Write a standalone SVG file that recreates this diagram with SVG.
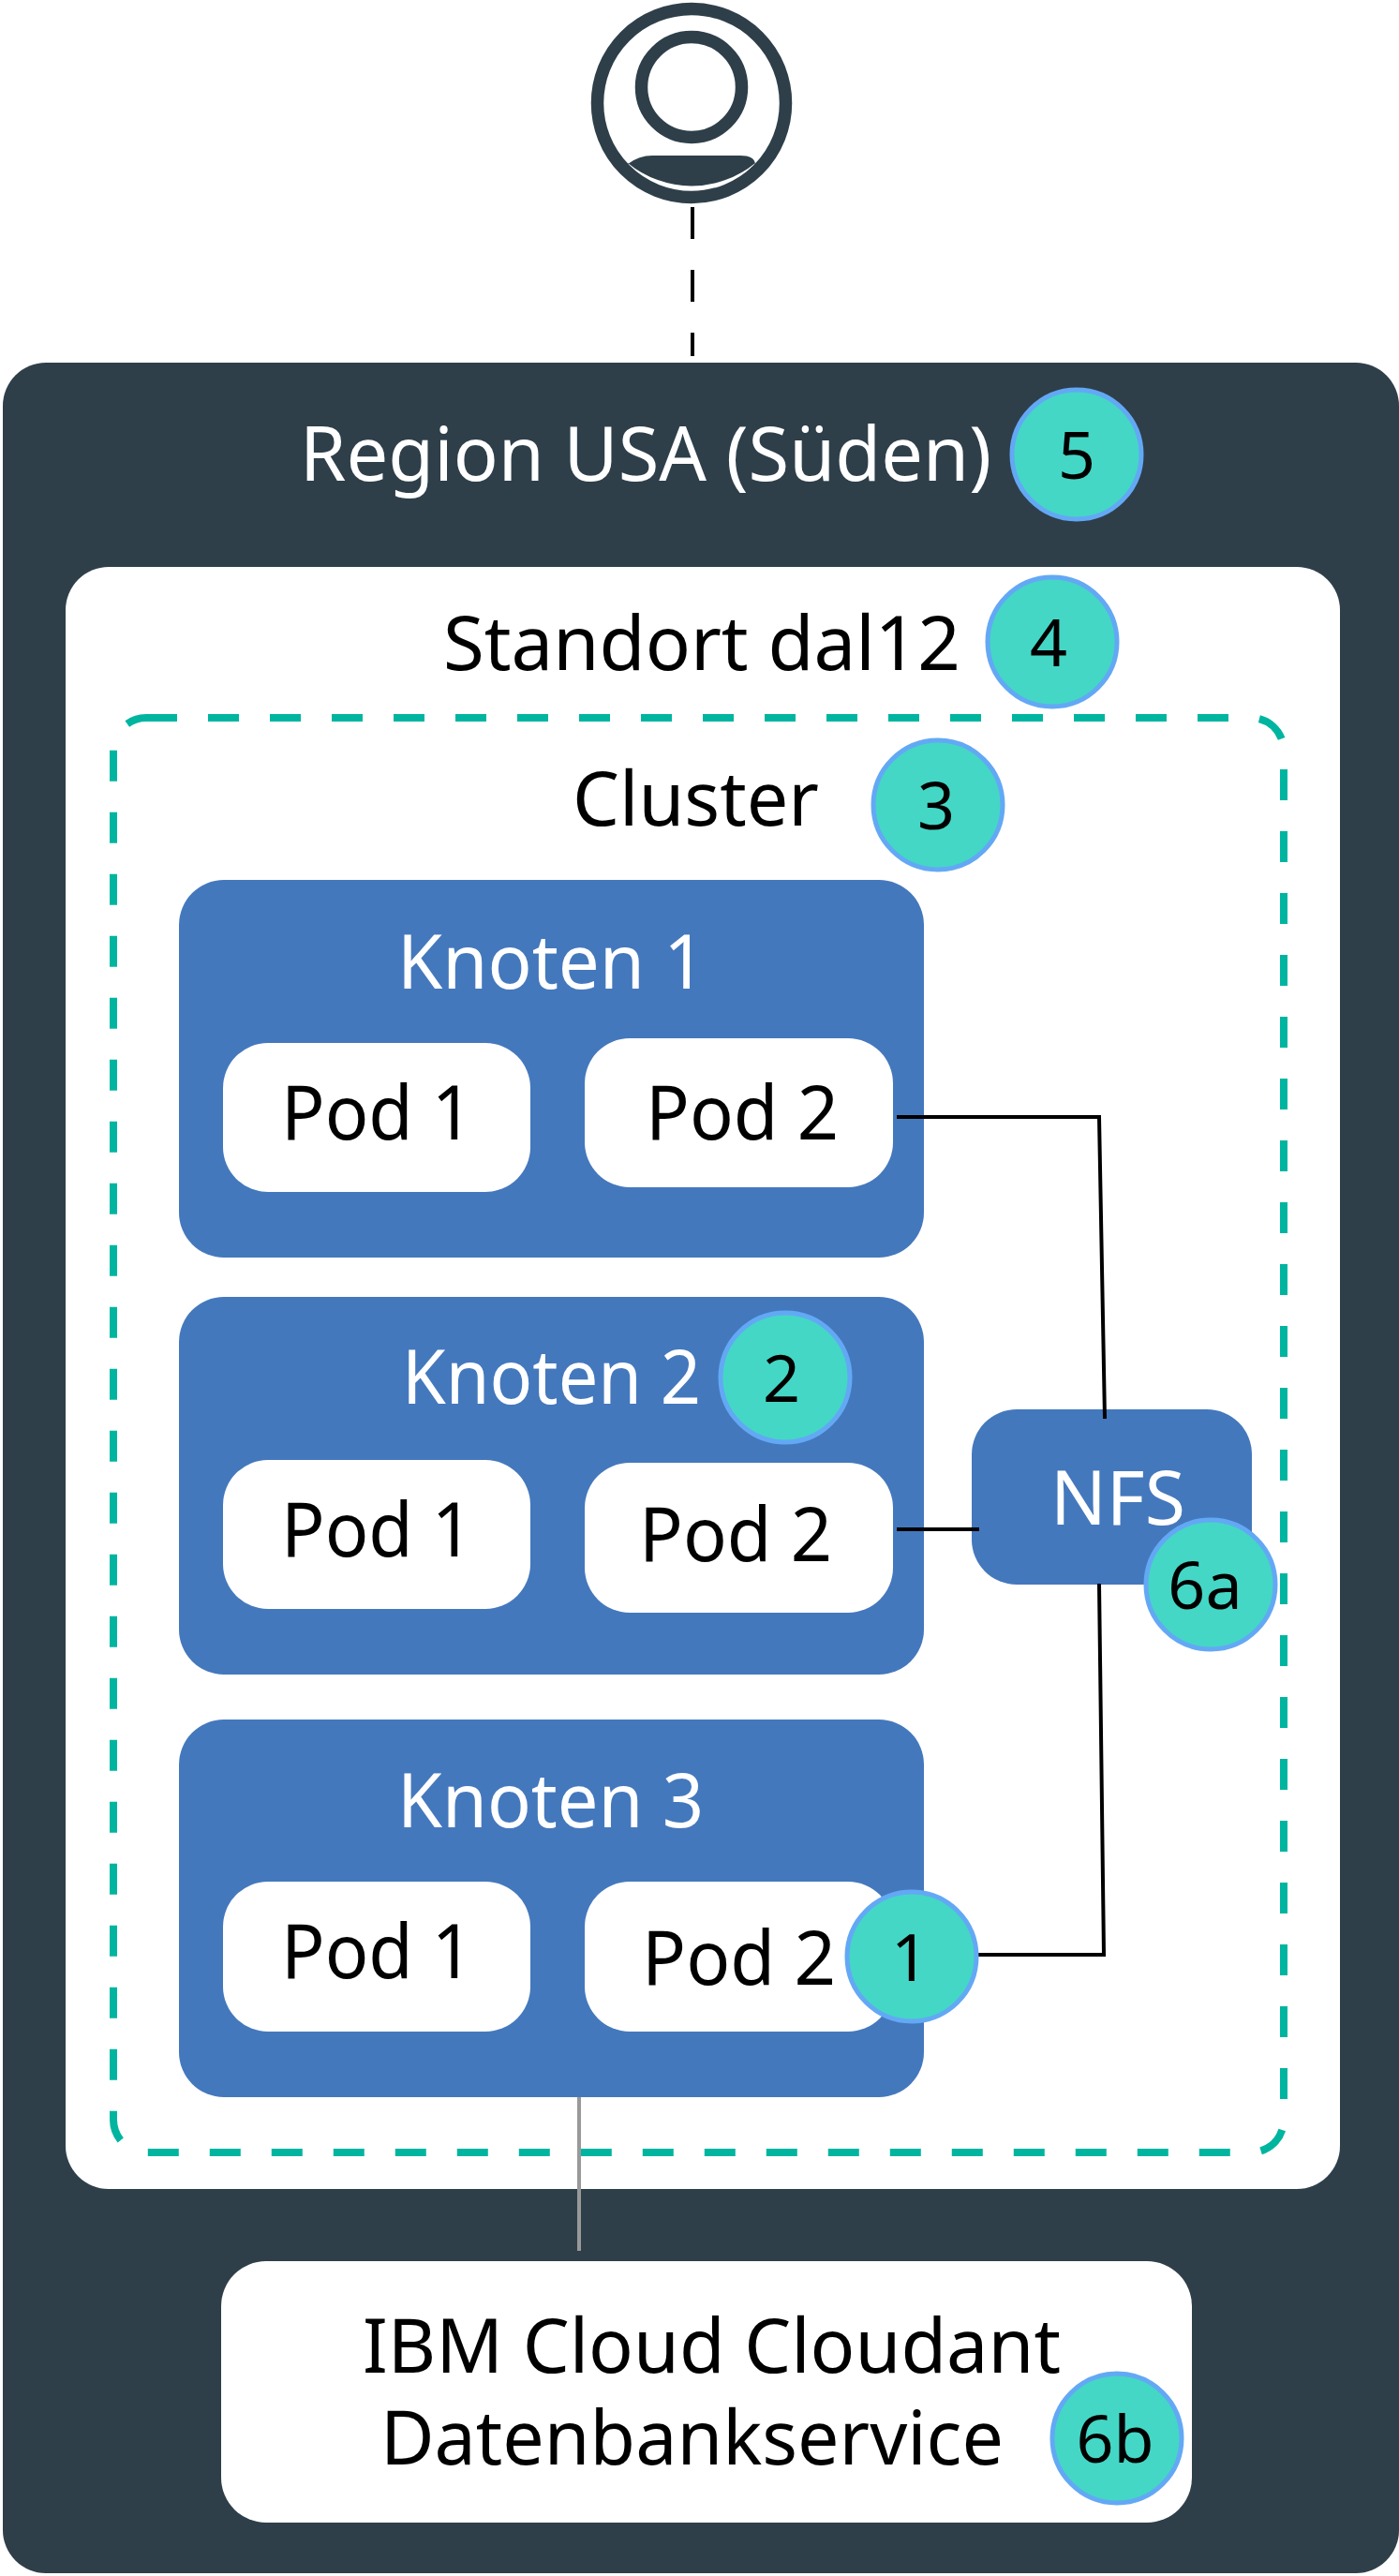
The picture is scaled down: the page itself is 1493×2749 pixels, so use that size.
<svg xmlns="http://www.w3.org/2000/svg" width="1493" height="2749" viewBox="0 0 1493 2749">
<style>
text{font-family:"Noto Sans","Open Sans","Liberation Sans",sans-serif;font-size:80px;fill:#000}
.w{fill:#fff}
.node{fill:#4478bd}
.pod{fill:#fff}
.badge{fill:#44d7c5;stroke:#63a8f5;stroke-width:5}
.conn{fill:none;stroke:#000;stroke-width:4}
.b{text-anchor:middle;font-size:70px}
</style>
<rect width="1493" height="2749" fill="#fff"/>
<g id="user">
<circle cx="738" cy="110" r="100.500" fill="#fff" stroke="#2e3f4a" stroke-width="13.500"/>
<circle cx="738" cy="93" r="53.500" fill="#fff" stroke="#2e3f4a" stroke-width="13.500"/>
<path d="M670 175Q682 166 696 166H790Q805 166 806 175Q823 180 805 176L806 174A107 107 0 0 1 670 174Z" fill="#2e3f4a"/>
</g>
<g id="region">
<rect x="3" y="387" width="1490" height="2359" rx="46" fill="#2e3f4a"/>
<text class="w" x="320" y="513" textLength="738" lengthAdjust="spacingAndGlyphs">Region USA (Süden)</text>
</g>
<g id="location">
<rect x="70" y="605" width="1360" height="1731" rx="46" fill="#fff"/>
<text x="473" y="715" textLength="552" lengthAdjust="spacingAndGlyphs">Standort dal12</text>
</g>
<g id="cluster">
<rect x="121" y="766" width="1249" height="1531" rx="35" fill="none" stroke="#00b5a0" stroke-width="8" stroke-dasharray="33 33"/>
<text x="611" y="881" textLength="263" lengthAdjust="spacingAndGlyphs">Cluster</text>
</g>
<g id="knoten1">
<rect class="node" x="191" y="939" width="795" height="403" rx="48"/>
<text class="w" x="424" y="1055" textLength="329" lengthAdjust="spacingAndGlyphs">Knoten 1</text>
<rect class="pod" x="238" y="1113" width="328" height="159" rx="48"/>
<text x="300" y="1216" textLength="205" lengthAdjust="spacingAndGlyphs">Pod 1</text>
<rect class="pod" x="624" y="1108" width="329" height="159" rx="48"/>
<text x="689" y="1216" textLength="206" lengthAdjust="spacingAndGlyphs">Pod 2</text>
</g>
<g id="knoten2">
<rect class="node" x="191" y="1384" width="795" height="403" rx="48"/>
<text class="w" x="429" y="1498" textLength="319" lengthAdjust="spacingAndGlyphs">Knoten 2</text>
<rect class="pod" x="238" y="1558" width="328" height="159" rx="48"/>
<text x="300" y="1661" textLength="205" lengthAdjust="spacingAndGlyphs">Pod 1</text>
<rect class="pod" x="624" y="1561" width="329" height="160" rx="48"/>
<text x="682" y="1666" textLength="206" lengthAdjust="spacingAndGlyphs">Pod 2</text>
</g>
<g id="knoten3">
<rect class="node" x="191" y="1835" width="795" height="403" rx="48"/>
<text class="w" x="424" y="1950" textLength="327" lengthAdjust="spacingAndGlyphs">Knoten 3</text>
<rect class="pod" x="238" y="2008" width="328" height="160" rx="48"/>
<text x="300" y="2111" textLength="205" lengthAdjust="spacingAndGlyphs">Pod 1</text>
<rect class="pod" x="624" y="2008" width="329" height="160" rx="48"/>
<text x="685" y="2118" textLength="207" lengthAdjust="spacingAndGlyphs">Pod 2</text>
</g>
<g id="nfs">
<rect class="node" x="1037" y="1504" width="299" height="187" rx="48"/>
<text class="w" x="1121" y="1627" textLength="144" lengthAdjust="spacingAndGlyphs">NFS</text>
</g>
<g id="cloudant">
<rect x="236" y="2413" width="1036" height="279" rx="48" fill="#fff"/>
<text x="387" y="2532" textLength="745" lengthAdjust="spacingAndGlyphs">IBM Cloud Cloudant</text>
<text x="406" y="2630" textLength="665" lengthAdjust="spacingAndGlyphs">Datenbankservice</text>
</g>
<g id="connectors">
<path class="conn" stroke-dasharray="34 33" d="M739 221V380" stroke-width="4"/>
<path class="conn" d="M957 1192H1173L1179 1514"/>
<path class="conn" d="M957 1632H1045"/>
<path class="conn" d="M1173 1690L1178 2086H1044"/>
<path class="conn" style="stroke:#999" d="M618 2238V2402"/>
</g>
<g id="badge5"><circle class="badge" cx="1149" cy="485" r="69"/><text class="b" x="1149" y="511">5</text></g>
<g id="badge4"><circle class="badge" cx="1123" cy="685" r="69"/><text class="b" x="1119" y="711">4</text></g>
<g id="badge3"><circle class="badge" cx="1001" cy="859" r="69"/><text class="b" x="999" y="885">3</text></g>
<g id="badge2"><circle class="badge" cx="838" cy="1470" r="69"/><text class="b" x="834" y="1496">2</text></g>
<g id="badge1"><circle class="badge" cx="973" cy="2088" r="69"/><text class="b" x="971" y="2114">1</text></g>
<g id="badge6a"><circle class="badge" cx="1292" cy="1691" r="69"/><text class="b" x="1286" y="1717">6a</text></g>
<g id="badge6b"><circle class="badge" cx="1192" cy="2602" r="69"/><text class="b" x="1190" y="2628">6b</text></g>
</svg>
